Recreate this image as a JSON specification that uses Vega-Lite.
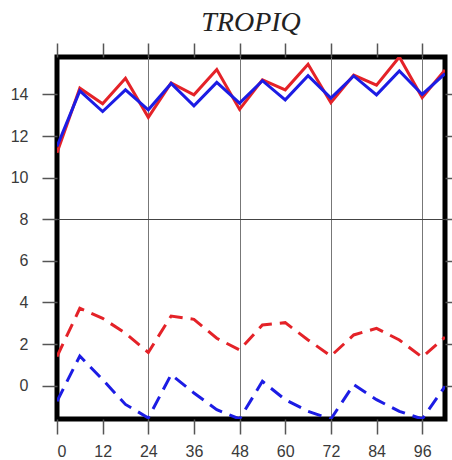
{
  "$schema": "https://vega.github.io/schema/vega-lite/v6.json",
  "autosize": "none",
  "width": 388,
  "height": 362,
  "padding": {"left": 57, "top": 57, "right": 7, "bottom": 41},
  "background": "white",
  "title": {"text": "TROPIQ", "font": "Liberation Serif", "fontStyle": "italic", "fontWeight": "normal", "fontSize": 28, "color": "#222222", "anchor": "middle", "offset": 5},
  "config": {"view": {"stroke": "black", "strokeWidth": 5}},
  "data": {"values": [
    {"t":0,"v":11.2,"c":"red","k":"solid"},{"t":6,"v":14.3,"c":"red","k":"solid"},{"t":12,"v":13.55,"c":"red","k":"solid"},{"t":18,"v":14.78,"c":"red","k":"solid"},{"t":24,"v":12.9,"c":"red","k":"solid"},{"t":30,"v":14.55,"c":"red","k":"solid"},{"t":36,"v":13.98,"c":"red","k":"solid"},{"t":42,"v":15.2,"c":"red","k":"solid"},{"t":48,"v":13.28,"c":"red","k":"solid"},{"t":54,"v":14.7,"c":"red","k":"solid"},{"t":60,"v":14.22,"c":"red","k":"solid"},{"t":66,"v":15.45,"c":"red","k":"solid"},{"t":72,"v":13.6,"c":"red","k":"solid"},{"t":78,"v":14.93,"c":"red","k":"solid"},{"t":84,"v":14.45,"c":"red","k":"solid"},{"t":90,"v":15.8,"c":"red","k":"solid"},{"t":96,"v":13.85,"c":"red","k":"solid"},{"t":102,"v":15.18,"c":"red","k":"solid"},
    {"t":0,"v":11.5,"c":"blue","k":"solid"},{"t":6,"v":14.17,"c":"blue","k":"solid"},{"t":12,"v":13.18,"c":"blue","k":"solid"},{"t":18,"v":14.22,"c":"blue","k":"solid"},{"t":24,"v":13.26,"c":"blue","k":"solid"},{"t":30,"v":14.53,"c":"blue","k":"solid"},{"t":36,"v":13.45,"c":"blue","k":"solid"},{"t":42,"v":14.58,"c":"blue","k":"solid"},{"t":48,"v":13.58,"c":"blue","k":"solid"},{"t":54,"v":14.66,"c":"blue","k":"solid"},{"t":60,"v":13.74,"c":"blue","k":"solid"},{"t":66,"v":14.9,"c":"blue","k":"solid"},{"t":72,"v":13.82,"c":"blue","k":"solid"},{"t":78,"v":14.89,"c":"blue","k":"solid"},{"t":84,"v":13.98,"c":"blue","k":"solid"},{"t":90,"v":15.13,"c":"blue","k":"solid"},{"t":96,"v":14.0,"c":"blue","k":"solid"},{"t":102,"v":15.0,"c":"blue","k":"solid"},
    {"t":0,"v":1.4,"c":"red","k":"dash"},{"t":6,"v":3.72,"c":"red","k":"dash"},{"t":12,"v":3.24,"c":"red","k":"dash"},{"t":18,"v":2.52,"c":"red","k":"dash"},{"t":24,"v":1.6,"c":"red","k":"dash"},{"t":30,"v":3.35,"c":"red","k":"dash"},{"t":36,"v":3.19,"c":"red","k":"dash"},{"t":42,"v":2.28,"c":"red","k":"dash"},{"t":48,"v":1.72,"c":"red","k":"dash"},{"t":54,"v":2.92,"c":"red","k":"dash"},{"t":60,"v":3.03,"c":"red","k":"dash"},{"t":66,"v":2.2,"c":"red","k":"dash"},{"t":72,"v":1.43,"c":"red","k":"dash"},{"t":78,"v":2.44,"c":"red","k":"dash"},{"t":84,"v":2.76,"c":"red","k":"dash"},{"t":90,"v":2.2,"c":"red","k":"dash"},{"t":96,"v":1.37,"c":"red","k":"dash"},{"t":102,"v":2.33,"c":"red","k":"dash"},
    {"t":0,"v":-0.75,"c":"blue","k":"dash"},{"t":6,"v":1.43,"c":"blue","k":"dash"},{"t":12,"v":0.29,"c":"blue","k":"dash"},{"t":18,"v":-0.9,"c":"blue","k":"dash"},{"t":24,"v":-1.55,"c":"blue","k":"dash"},{"t":30,"v":0.53,"c":"blue","k":"dash"},{"t":36,"v":-0.35,"c":"blue","k":"dash"},{"t":42,"v":-1.15,"c":"blue","k":"dash"},{"t":48,"v":-1.6,"c":"blue","k":"dash"},{"t":54,"v":0.21,"c":"blue","k":"dash"},{"t":60,"v":-0.67,"c":"blue","k":"dash"},{"t":66,"v":-1.23,"c":"blue","k":"dash"},{"t":72,"v":-1.6,"c":"blue","k":"dash"},{"t":78,"v":0.05,"c":"blue","k":"dash"},{"t":84,"v":-0.67,"c":"blue","k":"dash"},{"t":90,"v":-1.23,"c":"blue","k":"dash"},{"t":96,"v":-1.6,"c":"blue","k":"dash"},{"t":102,"v":-0.03,"c":"blue","k":"dash"}
  ]},
  "resolve": {"axis": {"x": "independent", "y": "independent"}},
  "layer": [
    {
      "transform": [{"filter": "datum.k === 'solid'"}],
      "mark": {"type": "line", "strokeWidth": 3, "clip": true},
      "encoding": {
        "x": {"field": "t", "type": "quantitative", "scale": {"domain": [0, 102], "nice": false, "zero": false},
          "axis": {"orient": "bottom", "title": null, "values": [0,12,24,36,48,60,72,84,96], "domain": false, "tickSize": 15, "tickWidth": 1.5, "tickColor": "#555555", "labelPadding": 9, "labelFont": "Liberation Sans", "labelFontSize": 16, "labelColor": "#3a3a3a", "labelAngle": 0,
            "grid": true, "gridColor": "#777777", "gridWidth": 1, "gridOpacity": {"condition": {"test": "datum.value > 0 && datum.value % 24 === 0", "value": 1}, "value": 0}}},
        "y": {"field": "v", "type": "quantitative", "scale": {"domain": [-1.6, 15.8], "nice": false, "zero": false},
          "axis": {"orient": "left", "title": null, "values": [0,2,4,6,8,10,12,14], "domain": false, "tickSize": 15, "tickWidth": 1.5, "tickColor": "#555555", "labelPadding": 14, "labelFont": "Liberation Sans", "labelFontSize": 16, "labelColor": "#3a3a3a",
            "grid": true, "gridColor": "#444444", "gridWidth": 1, "gridOpacity": {"condition": {"test": "datum.value === 8", "value": 1}, "value": 0}}},
        "color": {"field": "c", "type": "nominal", "scale": {"domain": ["red", "blue"], "range": ["#e42228", "#1c1ce4"]}, "legend": null}
      }
    },
    {
      "transform": [{"filter": "datum.k === 'dash'"}],
      "mark": {"type": "line", "strokeWidth": 3, "strokeDash": [14, 8], "clip": true},
      "encoding": {
        "x": {"field": "t", "type": "quantitative", "scale": {"domain": [0, 102], "nice": false, "zero": false},
          "axis": {"orient": "top", "title": null, "values": [0,12,24,36,48,60,72,84,96], "domain": false, "labels": false, "tickSize": 14, "tickWidth": 1.5, "tickColor": "#555555", "grid": false}},
        "y": {"field": "v", "type": "quantitative", "scale": {"domain": [-1.6, 15.8], "nice": false, "zero": false},
          "axis": {"orient": "right", "title": null, "values": [0,2,4,6,8,10,12,14], "domain": false, "labels": false, "tickSize": 12, "tickWidth": 1.5, "tickColor": "#555555", "grid": false}},
        "color": {"field": "c", "type": "nominal", "scale": {"domain": ["red", "blue"], "range": ["#e42228", "#1c1ce4"]}, "legend": null}
      }
    }
  ]
}
